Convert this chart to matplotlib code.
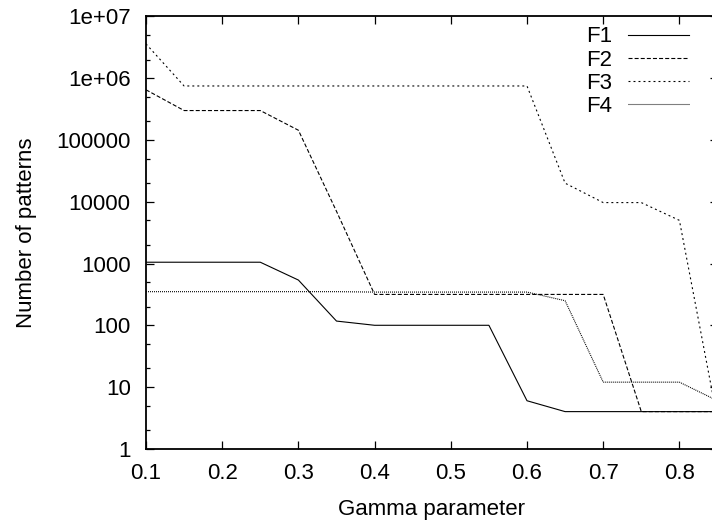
import matplotlib
matplotlib.use("Agg")
import matplotlib.pyplot as plt
from matplotlib.ticker import LogLocator, FixedLocator, NullFormatter, FixedFormatter

plt.rcParams['font.family'] = ['Liberation Sans', 'DejaVu Sans']
plt.rcParams['lines.scale_dashes'] = False

gamma = [0.1, 0.15, 0.2, 0.25, 0.3, 0.35, 0.4, 0.45, 0.5, 0.55, 0.6, 0.65, 0.7, 0.75, 0.8, 0.85]
f1 = [1050, 1050, 1050, 1050, 540, 117, 100, 100, 100, 100, 6, 4, 4, 4, 4, 4]
f2 = [650000, 300000, 300000, 300000, 144000, 7000, 316, 316, 316, 316, 316, 316, 316, 4, 4, 4]
f3 = [3600000, 750000, 750000, 750000, 750000, 750000, 750000, 750000, 750000, 750000, 750000,
      20000, 9700, 9700, 5000, 3]
f4 = [350, 350, 350, 350, 350, 350, 345, 345, 345, 345, 345, 250, 12, 12, 12, 6]

series_names = ["F1", "F2", "F3", "F4"]
xtick_vals = [0.1, 0.2, 0.3, 0.4, 0.5, 0.6, 0.7, 0.8]
ytick_vals = [1, 10, 100, 1000, 10000, 100000, 1000000, 10000000]
ytick_labels = ["1", "10", "100", "1000", "10000", "100000", "1e+06", "1e+07"]

W, H = 712, 523
fig = plt.figure(figsize=(W / 100, H / 100), dpi=100)
left, right, top, bottom = 146, 717.5, 16.5, 448.8
ax = fig.add_axes([left / W, (H - bottom) / H, (right - left) / W, (bottom - top) / H])

styles = [
    dict(linestyle='-'),
    dict(dashes=(2.9, 1.5)),
    dict(dashes=(1.4, 2.2)),
    dict(dashes=(0.72, 0.72)),
]
for name, ys, st in zip(series_names, [f1, f2, f3, f4], styles):
    ax.plot(gamma, ys, color='black', lw=0.8, label=name, **st)

ax.set_yscale('log')
ax.set_xlim(0.1, 0.85)
ax.set_ylim(1, 1e7)
ax.xaxis.set_major_locator(FixedLocator(xtick_vals))
ax.set_xticklabels([f"{v:.1f}" for v in xtick_vals])
ax.yaxis.set_major_locator(FixedLocator(ytick_vals))
ax.yaxis.set_major_formatter(FixedFormatter(ytick_labels))
ax.yaxis.set_minor_locator(LogLocator(base=10, subs=[2, 5], numticks=20))
ax.yaxis.set_minor_formatter(NullFormatter())

ax.tick_params(which='both', direction='in', top=True, right=True, labelsize=16, width=0.9)
ax.tick_params(which='major', length=6)
ax.tick_params(which='minor', length=3)
ax.tick_params(axis='x', pad=10)
ax.tick_params(axis='y', pad=11)
for s in ax.spines.values():
    s.set_linewidth(1.3)

ax.set_xlabel("Gamma parameter", fontsize=16, labelpad=11)
ax.set_ylabel("Number of patterns", fontsize=16, labelpad=14)

leg = ax.legend(loc='upper right', bbox_to_anchor=(689 / W, (H - 26.5) / H),
                bbox_transform=fig.transFigure, frameon=False, markerfirst=False,
                fontsize=16, handlelength=2.75, handletextpad=0.7, labelspacing=0.1,
                borderpad=0, borderaxespad=0)

fig.savefig("out.png", dpi=100)
